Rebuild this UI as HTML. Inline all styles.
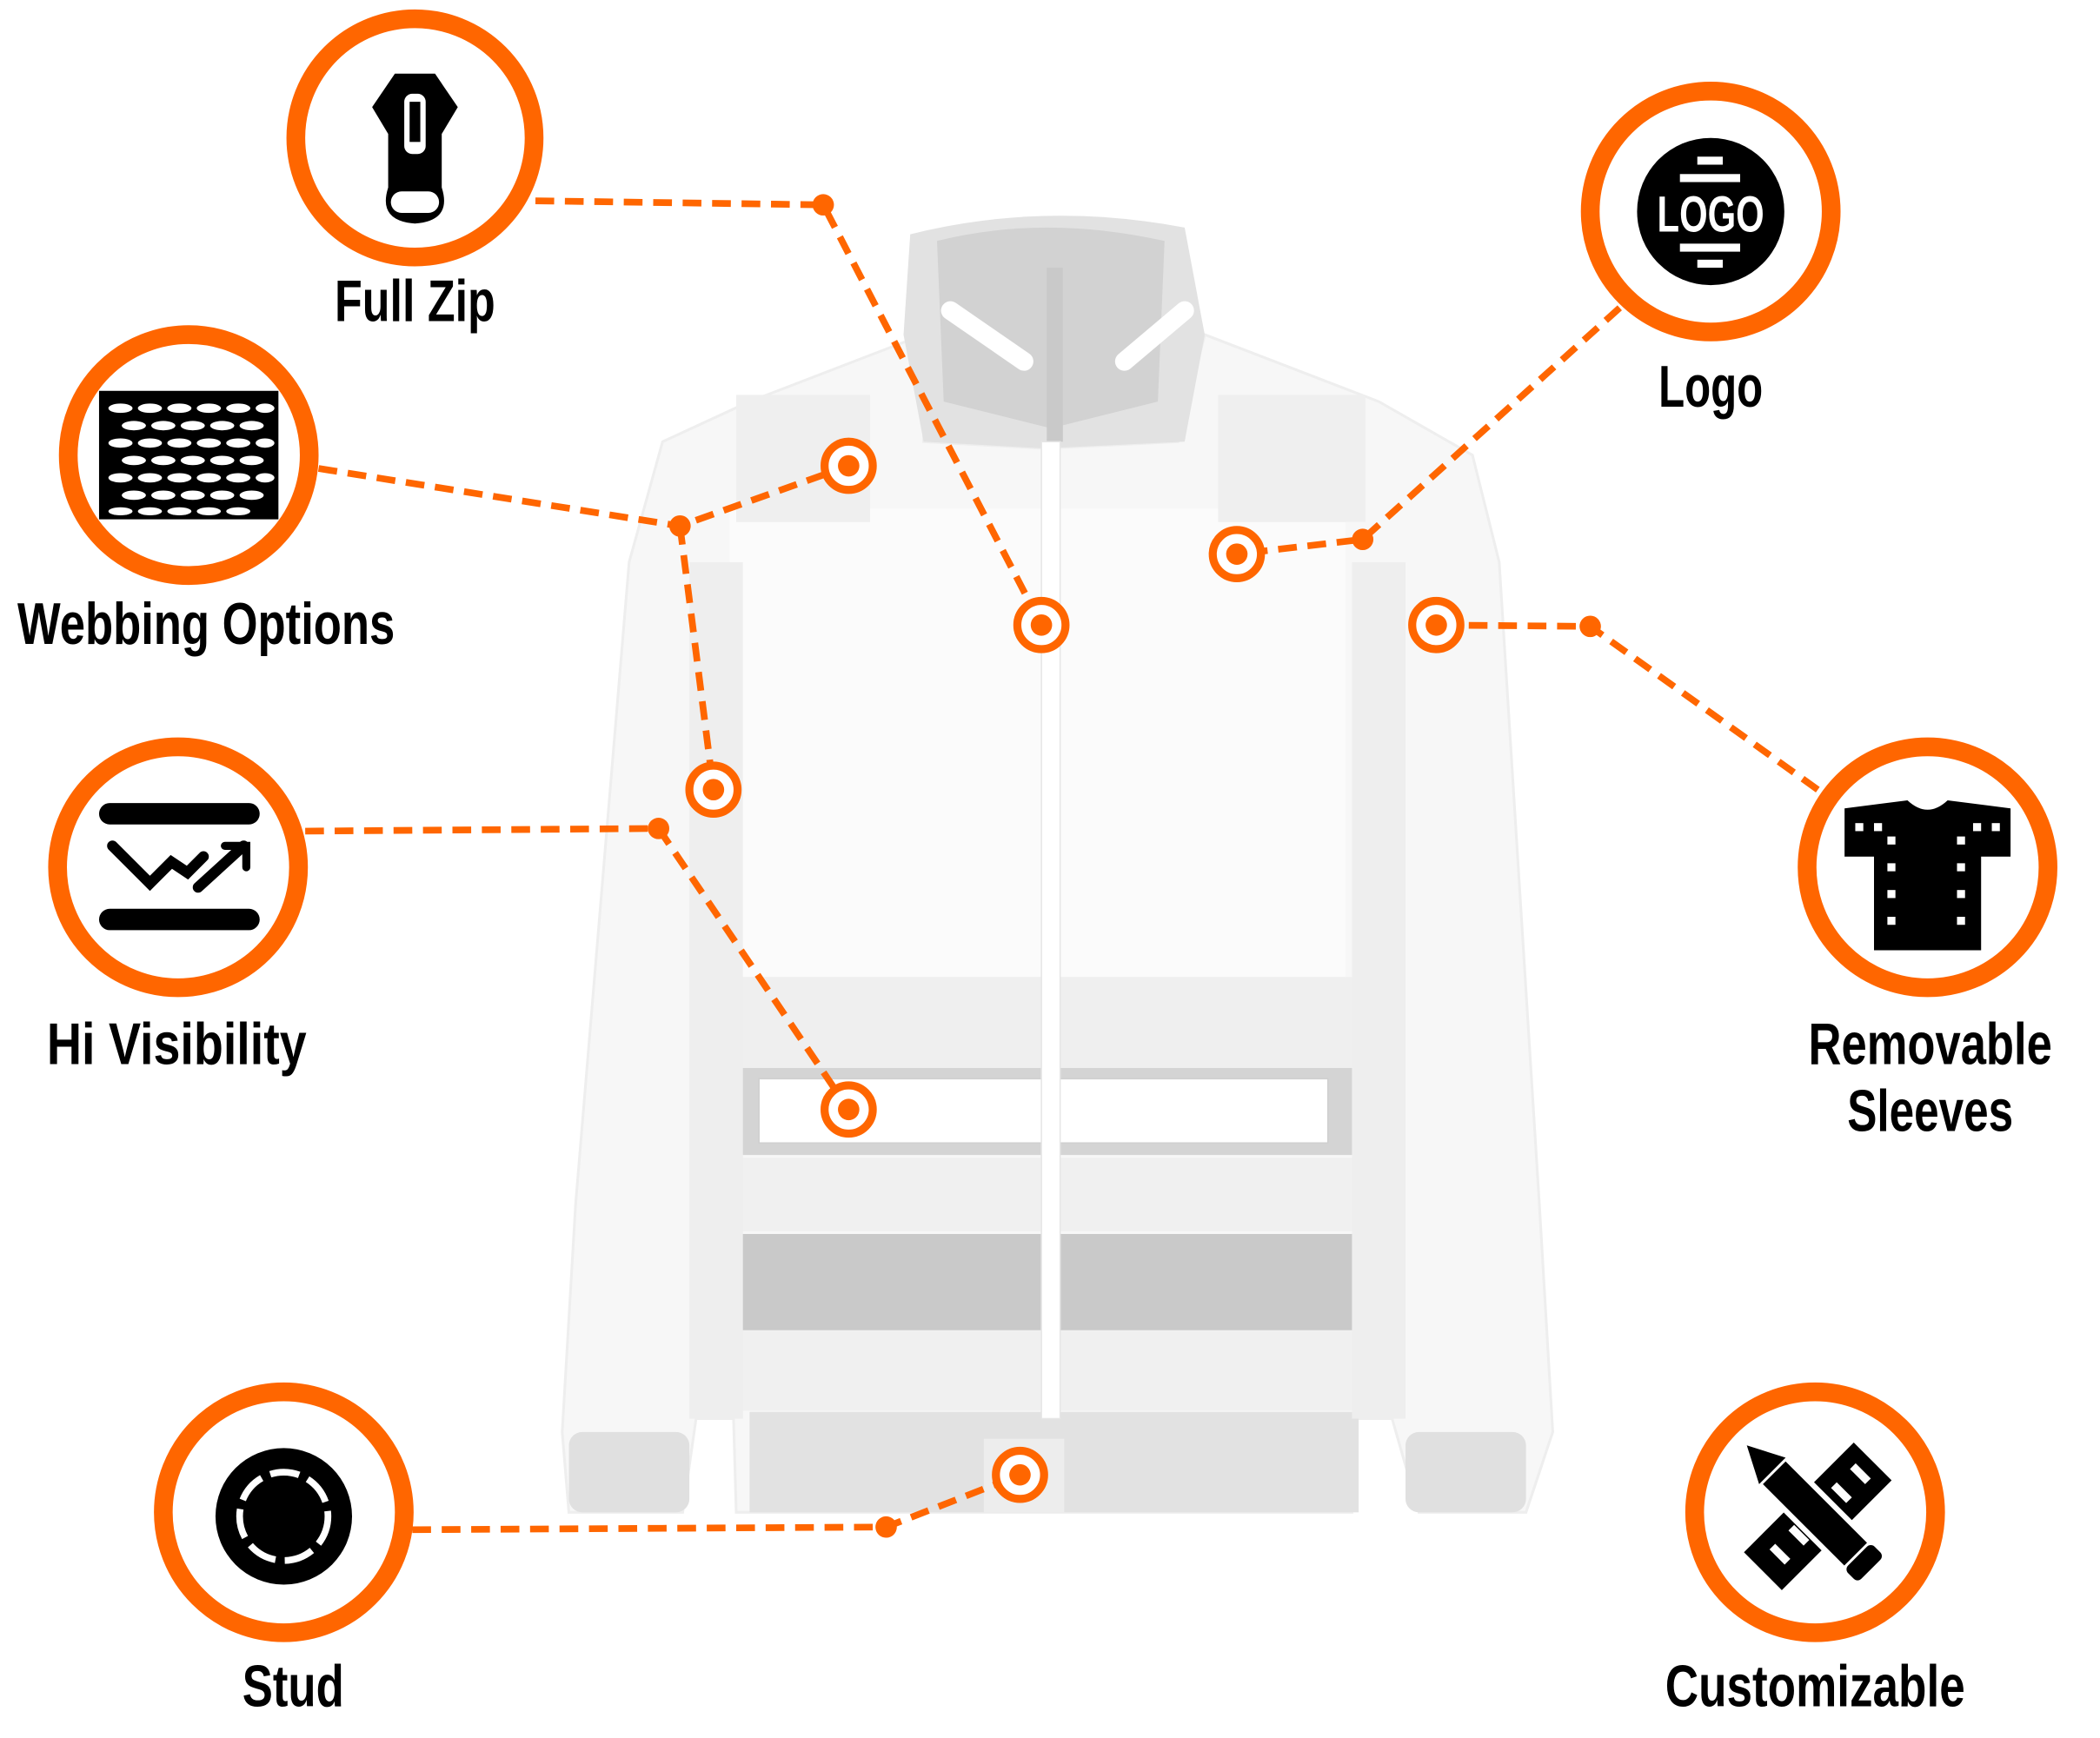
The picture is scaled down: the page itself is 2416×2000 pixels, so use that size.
<!DOCTYPE html>
<html><head><meta charset="utf-8"><style>
html,body{margin:0;padding:0;background:#fff;}
svg{display:block;}
text{font-family:"Liberation Sans",sans-serif;font-weight:bold;fill:#000;}
</style></head><body>
<svg width="2416" height="2000" viewBox="0 0 1550 1283" xmlns="http://www.w3.org/2000/svg">
<rect width="1550" height="1283" fill="#fff"/>
<g transform="scale(0.988)">
<!-- Jacket -->
<g>
<path d="M495,330 L560,300 L690,250 L690,330 L780,335 L880,330 L900,250 L1030,300 L1100,340 L1120,420 L1150,900 L1160,1070 L1140,1130 L1060,1130 L1040,1060 L1012,1060 L1010,1130 L550,1130 L548,1060 L520,1060 L510,1130 L425,1130 L420,1070 L430,900 L470,420 Z" fill="#f7f7f7" stroke="#eeeeee" stroke-width="2"/>
<rect x="545" y="380" width="460" height="350" fill="#fbfbfb"/>
<path d="M680,175 Q780,150 885,170 L900,250 L885,330 L780,335 L690,330 L675,250 Z" fill="#e2e2e2"/>
<path d="M700,180 Q780,160 870,180 L865,300 L785,320 L705,300 Z" fill="#d2d2d2"/>
<rect x="782" y="200" width="12" height="130" fill="#c9c9c9"/>
<path d="M710,232 L765,270" stroke="#fff" stroke-width="14" stroke-linecap="round"/>
<path d="M885,232 L840,270" stroke="#fff" stroke-width="14" stroke-linecap="round"/>
<rect x="550" y="295" width="100" height="95" fill="#efefef"/>
<rect x="910" y="295" width="110" height="95" fill="#efefef"/>
<rect x="545" y="730" width="465" height="70" fill="#efefef"/>
<rect x="545" y="798" width="470" height="65" fill="#d4d4d4"/>
<rect x="567" y="806" width="425" height="48" fill="#fff" stroke="#cfcfcf"/>
<rect x="545" y="865" width="465" height="55" fill="#f0f0f0"/>
<rect x="548" y="922" width="465" height="72" fill="#c9c9c9"/>
<rect x="550" y="994" width="460" height="60" fill="#f0f0f0"/>
<rect x="560" y="1055" width="455" height="75" fill="#e2e2e2"/>
<rect x="735" y="1075" width="60" height="55" fill="#ededed"/>
<rect x="778" y="330" width="14" height="730" fill="#fff" stroke="#e6e6e6"/>
<rect x="425" y="1070" width="90" height="60" rx="10" fill="#e0e0e0"/>
<rect x="1050" y="1070" width="90" height="60" rx="10" fill="#e0e0e0"/>
<rect x="1010" y="420" width="40" height="640" fill="#eeeeee"/>
<rect x="515" y="420" width="40" height="640" fill="#eeeeee"/>
</g>
<!-- connectors -->
<g fill="none" stroke="#ff6600" stroke-width="5" stroke-dasharray="14 8">
<polyline points="400,150 615,153 778,467"/>
<polyline points="238,350 508,393 634,348"/>
<polyline points="508,393 533,590"/>
<polyline points="228,621 492,619 634,829"/>
<polyline points="308,1143 662,1141 762,1102"/>
<polyline points="1210,230 1018,403 924,414"/>
<polyline points="1358,590 1188,468 1073,467"/>
</g>
<g fill="#ff6600">
<circle cx="615" cy="153" r="8"/><circle cx="508" cy="393" r="8"/><circle cx="492" cy="619" r="8"/>
<circle cx="662" cy="1141" r="8"/><circle cx="1018" cy="403" r="8"/><circle cx="1188" cy="468" r="8"/>
</g>
<g fill="#fff" stroke="#ff6600" stroke-width="6">
<circle cx="778" cy="467" r="18"/><circle cx="634" cy="348" r="18"/><circle cx="533" cy="590" r="18"/>
<circle cx="634" cy="829" r="18"/><circle cx="762" cy="1102" r="18"/><circle cx="924" cy="414" r="18"/><circle cx="1073" cy="467" r="18"/>
</g>
<g fill="#ff6600">
<circle cx="778" cy="467" r="8"/><circle cx="634" cy="348" r="8"/><circle cx="533" cy="590" r="8"/>
<circle cx="634" cy="829" r="8"/><circle cx="762" cy="1102" r="8"/><circle cx="924" cy="414" r="8"/><circle cx="1073" cy="467" r="8"/>
</g>
<!-- feature circles -->
<g fill="#fff" stroke="#ff6600" stroke-width="14">
<circle cx="310" cy="103" r="89"/>
<circle cx="141" cy="340" r="90"/>
<circle cx="133" cy="648" r="90"/>
<circle cx="212" cy="1130" r="90"/>
<circle cx="1278" cy="158" r="90"/>
<circle cx="1440" cy="648" r="90"/>
<circle cx="1356" cy="1130" r="90"/>
</g>
<!-- zip -->
<g>
<path d="M295,55 L325,55 L342,80 L330,100 L330,140 Q338,165 310,167 Q282,165 290,140 L290,100 L278,80 Z" fill="#000"/>
<rect x="302" y="70" width="16" height="45" rx="6" fill="#fff"/><rect x="306" y="76" width="8" height="30" fill="#000"/>
<rect x="292" y="143" width="36" height="16" rx="8" fill="#fff"/>
</g>
<!-- mesh -->
<rect x="74" y="292" width="134" height="96" fill="#000"/>
<g fill="#fff">
<ellipse cx="90" cy="305" rx="9" ry="3.5"/><ellipse cx="112" cy="305" rx="9" ry="3.5"/><ellipse cx="134" cy="305" rx="9" ry="3.5"/><ellipse cx="156" cy="305" rx="9" ry="3.5"/><ellipse cx="178" cy="305" rx="9" ry="3.5"/><ellipse cx="198" cy="305" rx="7" ry="3.5"/>
<ellipse cx="100" cy="318" rx="9" ry="3.5"/><ellipse cx="122" cy="318" rx="9" ry="3.5"/><ellipse cx="144" cy="318" rx="9" ry="3.5"/><ellipse cx="166" cy="318" rx="9" ry="3.5"/><ellipse cx="188" cy="318" rx="9" ry="3.5"/>
<ellipse cx="90" cy="331" rx="9" ry="3.5"/><ellipse cx="112" cy="331" rx="9" ry="3.5"/><ellipse cx="134" cy="331" rx="9" ry="3.5"/><ellipse cx="156" cy="331" rx="9" ry="3.5"/><ellipse cx="178" cy="331" rx="9" ry="3.5"/><ellipse cx="198" cy="331" rx="7" ry="3.5"/>
<ellipse cx="100" cy="344" rx="9" ry="3.5"/><ellipse cx="122" cy="344" rx="9" ry="3.5"/><ellipse cx="144" cy="344" rx="9" ry="3.5"/><ellipse cx="166" cy="344" rx="9" ry="3.5"/><ellipse cx="188" cy="344" rx="9" ry="3.5"/>
<ellipse cx="90" cy="357" rx="9" ry="3.5"/><ellipse cx="112" cy="357" rx="9" ry="3.5"/><ellipse cx="134" cy="357" rx="9" ry="3.5"/><ellipse cx="156" cy="357" rx="9" ry="3.5"/><ellipse cx="178" cy="357" rx="9" ry="3.5"/><ellipse cx="198" cy="357" rx="7" ry="3.5"/>
<ellipse cx="100" cy="370" rx="9" ry="3.5"/><ellipse cx="122" cy="370" rx="9" ry="3.5"/><ellipse cx="144" cy="370" rx="9" ry="3.5"/><ellipse cx="166" cy="370" rx="9" ry="3.5"/><ellipse cx="188" cy="370" rx="9" ry="3.5"/>
<ellipse cx="90" cy="382" rx="9" ry="3"/><ellipse cx="112" cy="382" rx="9" ry="3"/><ellipse cx="134" cy="382" rx="9" ry="3"/><ellipse cx="156" cy="382" rx="9" ry="3"/><ellipse cx="178" cy="382" rx="9" ry="3"/>
</g>
<!-- hi vis -->
<g stroke="#000" stroke-linecap="round" fill="none">
<line x1="82" y1="608" x2="186" y2="608" stroke-width="16"/>
<line x1="82" y1="687" x2="186" y2="687" stroke-width="16"/>
<polyline points="84,632 112,660 128,644 140,652 152,640" stroke-width="8"/>
<line x1="148" y1="663" x2="182" y2="632" stroke-width="8"/>
<polyline points="168,632 184,632 184,648" stroke-width="6"/>
</g>
<!-- stud -->
<circle cx="212" cy="1133" r="51" fill="#000"/>
<circle cx="212" cy="1133" r="33" fill="none" stroke="#fff" stroke-width="5" stroke-dasharray="22 7"/>
<!-- logo -->
<circle cx="1278" cy="158" r="55" fill="#000"/>
<rect x="1268" y="117" width="19" height="6" fill="#fff"/><rect x="1255" y="130" width="45" height="6" fill="#fff"/>
<rect x="1255" y="182" width="45" height="6" fill="#fff"/><rect x="1268" y="194" width="19" height="6" fill="#fff"/>
<text x="1278" y="173" text-anchor="middle" font-size="38" textLength="80" lengthAdjust="spacingAndGlyphs" style="fill:#fff">LOGO</text>
<!-- shirt -->
<path d="M1378,604 L1425,598 Q1440,612 1455,598 L1502,604 L1502,640 L1480,640 L1480,710 L1400,710 L1400,640 L1378,640 Z" fill="#000"/>
<g fill="#fff">
<rect x="1386" y="615" width="6" height="6"/><rect x="1400" y="615" width="6" height="6"/><rect x="1474" y="615" width="6" height="6"/><rect x="1488" y="615" width="6" height="6"/>
<rect x="1410" y="625" width="6" height="6"/><rect x="1410" y="645" width="6" height="6"/><rect x="1410" y="665" width="6" height="6"/><rect x="1410" y="685" width="6" height="6"/>
<rect x="1462" y="625" width="6" height="6"/><rect x="1462" y="645" width="6" height="6"/><rect x="1462" y="665" width="6" height="6"/><rect x="1462" y="685" width="6" height="6"/>
</g>
<!-- customizable -->
<g transform="rotate(45 1358 1133)">
<rect x="1338" y="1075" width="40" height="116" fill="#000"/>
<rect x="1350" y="1085" width="16" height="6" fill="#fff"/><rect x="1350" y="1105" width="16" height="6" fill="#fff"/><rect x="1350" y="1150" width="16" height="6" fill="#fff"/><rect x="1350" y="1170" width="16" height="6" fill="#fff"/>
</g>
<g transform="rotate(-45 1358 1133)">
<rect x="1344" y="1085" width="28" height="90" fill="#000" stroke="#fff" stroke-width="4"/>
<path d="M1344,1085 L1358,1058 L1372,1085 Z" fill="#000"/>
<rect x="1344" y="1175" width="28" height="14" rx="4" fill="#000"/>
</g>
<!-- labels -->
<text x="310" y="240" text-anchor="middle" font-size="44" textLength="120" lengthAdjust="spacingAndGlyphs">Full Zip</text>
<text x="154" y="481" text-anchor="middle" font-size="44" textLength="282" lengthAdjust="spacingAndGlyphs">Webbing Options</text>
<text x="132" y="795" text-anchor="middle" font-size="44" textLength="194" lengthAdjust="spacingAndGlyphs">Hi Visibility</text>
<text x="219" y="1275" text-anchor="middle" font-size="44" textLength="76" lengthAdjust="spacingAndGlyphs">Stud</text>
<text x="1278" y="304" text-anchor="middle" font-size="44" textLength="78" lengthAdjust="spacingAndGlyphs">Logo</text>
<text x="1442" y="795" text-anchor="middle" font-size="44" textLength="182" lengthAdjust="spacingAndGlyphs">Removable</text>
<text x="1442" y="845" text-anchor="middle" font-size="44" textLength="124" lengthAdjust="spacingAndGlyphs">Sleeves</text>
<text x="1356" y="1275" text-anchor="middle" font-size="44" textLength="224" lengthAdjust="spacingAndGlyphs">Customizable</text>
</g>
</svg>
</body></html>
